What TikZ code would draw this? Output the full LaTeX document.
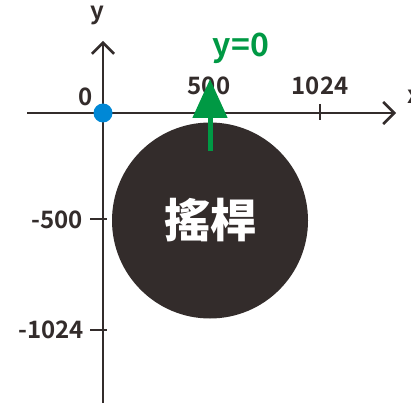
\documentclass[tikz,border=0pt]{standalone}
\usepackage{fontspec}
\setmainfont{Noto Sans CJK TC}[BoldFont={* Bold}]
\newfontfamily\cjk{Noto Sans CJK TC}[BoldFont={* Black}]
\usetikzlibrary{arrows.meta}
\definecolor{ink}{HTML}{332C2B}
\definecolor{grn}{HTML}{009944}
\definecolor{blu}{HTML}{0088D6}
\tikzset{
  axis/.style={draw=ink,line width=2.6pt,-{Straight Barb[length=11pt,width=22pt,line width=2.6pt]}},
  tickmark/.style={draw=ink,line width=2.2pt},
  lbl/.style={text=ink,font=\fontsize{24}{24}\selectfont\bfseries,inner sep=0pt},
}
\begin{document}
\begin{tikzpicture}[x=1pt,y=-1pt]
\useasboundingbox (0,0) rectangle (411,403);
% circle
\node[circle,fill=ink,minimum size=196pt,inner sep=0pt] (disk) at (210,220.5) {};
\node[text=white,font=\cjk\bfseries\fontsize{46}{46}\selectfont,inner sep=0pt] (txt) at (210,220) {搖桿};
% axes
\coordinate (xs) at (27,113);
\coordinate (xe) at (396,113);
\coordinate (ys) at (103,403);
\coordinate (ye) at (103,41);
\draw[axis] (xs) -- (xe);
\draw[axis] (ys) -- (ye);
% ticks
\coordinate (t1a) at (320,104); \coordinate (t1b) at (320,120);
\draw[tickmark] (t1a) -- (t1b);
\coordinate (t2a) at (90,219); \coordinate (t2b) at (107,219);
\draw[tickmark] (t2a) -- (t2b);
\coordinate (t3a) at (90,330); \coordinate (t3b) at (107,330);
\draw[tickmark] (t3a) -- (t3b);
% labels
\node[lbl,anchor=base] (lx) at (414,104) {x};
\node[lbl,anchor=base] (ly) at (97,20) {y};
\node[lbl] (l0) at (86,97) {0};
\node[lbl] (l500) at (209,86) {500};
\node[lbl] (l1024) at (320,86) {1024};
\node[lbl,anchor=east] (lm500) at (83,220) {-500};
\node[lbl,anchor=east] (lm1024) at (84,330) {-1024};
% origin dot
\node[circle,fill=blu,minimum size=19pt,inner sep=0pt] (org) at (103,113) {};
% green arrow
\coordinate (gs) at (210,151);
\coordinate (ge) at (210,79);
\draw[grn,line width=5pt,-{Triangle[length=39pt,width=34pt]}] (gs) -- (ge);
\node[text=grn,font=\fontsize{32}{32}\selectfont\bfseries,inner sep=0pt] (y0) at (241,48) {y=0};
\end{tikzpicture}
\end{document}
